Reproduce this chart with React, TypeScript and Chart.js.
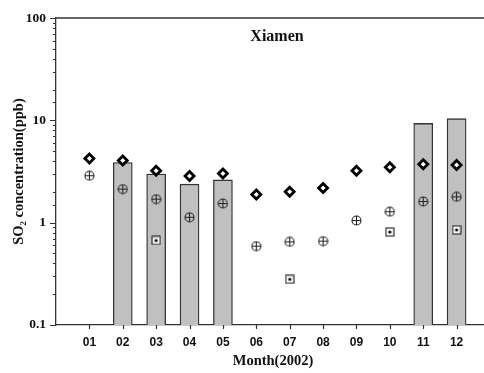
import { useEffect, useRef } from 'react';
import { Chart, registerables } from 'chart.js';

Chart.register(...registerables);

// Monthly SO2 concentrations at Xiamen, 2002 (ppb)
const months = ['01', '02', '03', '04', '05', '06', '07', '08', '09', '10', '11', '12'];
const barValues = [null, 3.87, 2.99, 2.38, 2.62, null, null, null, null, null, 9.34, 10.4];
const diamondValues = [4.25, 4.06, 3.22, 2.86, 3.03, 1.89, 2.01, 2.18, 3.22, 3.48, 3.72, 3.67];
const circleValues = [2.88, 2.13, 1.7, 1.13, 1.54, 0.59, 0.65, 0.66, 1.05, 1.28, 1.61, 1.79];
const squareValues = [null, null, 0.67, null, null, null, 0.28, null, null, 0.81, null, 0.85];
const yTickLabels = [0.1, 1, 10, 100];

const SERIF = '"Liberation Serif", "Times New Roman", serif';
const SANS = '"Liberation Sans", Arial, sans-serif';
const INK = '#333';

// empty slot on each side so months sit on whole-number positions
const pad = (arr: (number | null)[]) => [null, ...arr, null];
const xLabels = ['', ...months, ''];

function isLabelled(v: number) {
  return yTickLabels.some((l) => Math.abs(l - v) < l * 1e-6);
}

function circlePlusMarker() {
  const c = document.createElement('canvas');
  c.width = 11;
  c.height = 11;
  const g = c.getContext('2d')!;
  g.strokeStyle = '#222';
  g.lineWidth = 1.1;
  g.beginPath();
  g.arc(5.5, 5.5, 4.5, 0, Math.PI * 2);
  g.stroke();
  g.beginPath();
  g.moveTo(1, 5.5);
  g.lineTo(10, 5.5);
  g.moveTo(5.5, 1);
  g.lineTo(5.5, 10);
  g.stroke();
  return c;
}

function squareDotMarker() {
  const c = document.createElement('canvas');
  c.width = 10;
  c.height = 10;
  const g = c.getContext('2d')!;
  g.fillStyle = '#fff';
  g.fillRect(1, 1, 8, 8);
  g.strokeStyle = INK;
  g.lineWidth = 1.2;
  g.strokeRect(1, 1, 8, 8);
  g.fillStyle = '#000';
  g.beginPath();
  g.arc(5, 5, 1.6, 0, Math.PI * 2);
  g.fill();
  return c;
}

// tick marks, top frame line and the in-plot station name
const framePlugin = {
  id: 'frame',
  afterDraw(chart: any) {
    const { ctx, chartArea, scales } = chart;
    const y = scales.y;
    const x = scales.x;
    ctx.save();
    ctx.strokeStyle = INK;
    ctx.lineWidth = 1.2;
    ctx.beginPath();
    y.ticks.forEach((t: any) => {
      const py = Math.round(y.getPixelForValue(t.value)) + 0.5;
      const len = isLabelled(t.value) ? 6 : 3;
      ctx.moveTo(chartArea.left - len, py);
      ctx.lineTo(chartArea.left, py);
    });
    months.forEach((_, i) => {
      const px = Math.round(x.getPixelForValue(i + 1)) + 0.5;
      ctx.moveTo(px, chartArea.bottom);
      ctx.lineTo(px, chartArea.bottom + 4);
    });
    ctx.stroke();

    ctx.lineWidth = 1.5;
    ctx.beginPath();
    ctx.moveTo(chartArea.left, chartArea.top);
    ctx.lineTo(chartArea.right, chartArea.top);
    ctx.stroke();

    ctx.fillStyle = '#111';
    ctx.font = `bold 16px ${SERIF}`;
    ctx.textAlign = 'center';
    ctx.textBaseline = 'middle';
    ctx.fillText('Xiamen', (chartArea.left + chartArea.right) / 2 + 4, chartArea.top + 19);
    ctx.restore();
  },
};

export default function App() {
  const canvasRef = useRef<HTMLCanvasElement | null>(null);

  useEffect(() => {
    const canvas = canvasRef.current;
    if (!canvas) return;
    const chart = new Chart(canvas, {
      type: 'bar',
      data: {
        labels: xLabels,
        datasets: [
          {
            type: 'line',
            data: pad(diamondValues),
            showLine: false,
            pointStyle: 'rectRot',
            pointRadius: 4.5,
            pointBorderWidth: 2.8,
            pointBorderColor: '#000',
            pointBackgroundColor: '#fff',
            order: 1,
          },
          {
            type: 'line',
            data: pad(squareValues),
            showLine: false,
            pointStyle: squareDotMarker(),
            order: 2,
          },
          {
            type: 'line',
            data: pad(circleValues),
            showLine: false,
            pointStyle: circlePlusMarker(),
            order: 3,
          },
          {
            type: 'bar',
            data: pad(barValues),
            backgroundColor: '#c0c0c0',
            borderColor: INK,
            borderWidth: 1.3,
            borderSkipped: 'bottom',
            barThickness: 19,
            order: 10,
          },
        ] as any,
      },
      options: {
        animation: false,
        responsive: false,
        layout: { padding: { top: 12, right: 7, bottom: 0, left: 0 } },
        plugins: {
          legend: { display: false },
          tooltip: { enabled: false },
        },
        scales: {
          x: {
            type: 'category',
            offset: false,
            grid: { display: true, drawOnChartArea: false, drawTicks: false },
            border: { display: true, color: INK, width: 1.3 },
            ticks: {
              autoSkip: false,
              maxRotation: 0,
              padding: 10,
              color: '#111',
              font: { family: SANS, size: 12, weight: 'bold' },
            },
            title: {
              display: true,
              text: 'Month(2002)',
              color: '#111',
              font: { family: SERIF, size: 14.5, weight: 'bold' },
              padding: { top: 0, bottom: 3 },
            },
            afterFit: (scale: any) => {
              scale.height = 48;
            },
          },
          y: {
            type: 'logarithmic',
            min: 0.1,
            max: 100,
            grid: { display: true, drawOnChartArea: false, drawTicks: false },
            border: { display: true, color: INK, width: 1.3 },
            ticks: {
              autoSkip: false,
              padding: 10,
              color: '#111',
              font: { family: SERIF, size: 13.5, weight: 'bold' },
              callback: (v: any) => (isLabelled(Number(v)) ? String(Number(v)) : ''),
            },
            title: {
              display: true,
              text: 'SO\u2082 concentration(ppb)',
              color: '#111',
              font: { family: SERIF, size: 14.5, weight: 'bold' },
              padding: { top: 11, bottom: 0 },
            },
            afterFit: (scale: any) => {
              scale.width = 56;
            },
          },
        },
      } as any,
      plugins: [framePlugin],
    });
    return () => chart.destroy();
  }, []);

  return (
    <div style={{ position: 'fixed', left: 0, top: 0, width: 500, height: 373, background: '#fff' }}>
      <canvas ref={canvasRef} width={500} height={373} style={{ display: 'block' }} />
    </div>
  );
}
